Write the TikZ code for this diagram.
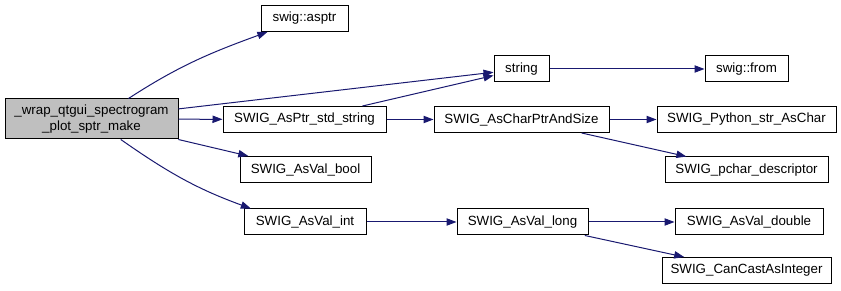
\documentclass[tikz,border=0pt]{standalone}
\usepackage{fontspec}
\setmainfont{Liberation Sans}
\usetikzlibrary{arrows.meta}
\definecolor{callblue}{RGB}{25,25,112}
\definecolor{rootgray}{RGB}{191,191,191}
\def\px{0.75pt}
\tikzset{
  fnbox/.style={draw=black,fill=white,line width=0.75pt,inner sep=0pt,
    minimum height=26*\px,font=\fontsize{10}{11.5}\selectfont},
  rootfn/.style={fnbox,fill=rootgray,minimum height=40*\px,align=center},
  call/.style={-{Triangle[length=7.5pt,width=5.5pt]},draw=callblue,line width=0.75pt},
}
\begin{document}
\begin{tikzpicture}[x=0.75pt,y=-0.75pt]
  \useasboundingbox (0,0) rectangle (841,291);
  % caller
  \node[rootfn,minimum width=173*\px] (wrap) at (91.5,119)
    {\_wrap\_qtgui\_spectrogram\\\_plot\_sptr\_make};
  % first level callees
  \node[fnbox,minimum width=87*\px]  (asptr)  at (304.5,18.5) {swig::asptr};
  \node[fnbox,minimum width=163*\px] (asptrs) at (304.5,119.5) {SWIG\_AsPtr\_std\_string};
  \node[fnbox,minimum width=131*\px] (vbool)  at (305.5,169.5) {SWIG\_AsVal\_bool};
  \node[fnbox,minimum width=122*\px] (vint)   at (305,222) {SWIG\_AsVal\_int};
  % second level
  \node[fnbox,minimum width=55*\px]  (str)    at (521.5,69) {string};
  \node[fnbox,minimum width=175*\px] (cptr)   at (521.5,119.5) {SWIG\_AsCharPtrAndSize};
  \node[fnbox,minimum width=131*\px] (vlong)  at (522.5,222) {SWIG\_AsVal\_long};
  % leaves
  \node[fnbox,minimum width=83*\px]  (sfrom)  at (746.5,69) {swig::from};
  \node[fnbox,minimum width=179*\px] (pystr)  at (746.5,119.5) {SWIG\_Python\_str\_AsChar};
  \node[fnbox,minimum width=163*\px] (pchar)  at (746.5,170) {SWIG\_pchar\_descriptor};
  \node[fnbox,minimum width=148*\px] (vdbl)   at (749,222) {SWIG\_AsVal\_double};
  \node[fnbox,minimum width=169*\px] (ccast)  at (746.5,270.5) {SWIG\_CanCastAsInteger};

  \draw[call] (wrap.29) to[out=33,in=200] (asptr.200);
  \draw[call] (wrap) -- (str);
  \draw[call] (wrap) -- (asptrs);
  \draw[call] (wrap) -- (vbool);
  \draw[call] (wrap.-35) to[out=-35,in=160] (vint.166);
  \draw[call] (asptrs) -- (str);
  \draw[call] (asptrs) -- (cptr);
  \draw[call] (str) -- (sfrom);
  \draw[call] (cptr) -- (pystr);
  \draw[call] (cptr) -- (pchar);
  \draw[call] (vint) -- (vlong);
  \draw[call] (vlong) -- (vdbl);
  \draw[call] (vlong) -- (ccast);
\end{tikzpicture}
\end{document}
